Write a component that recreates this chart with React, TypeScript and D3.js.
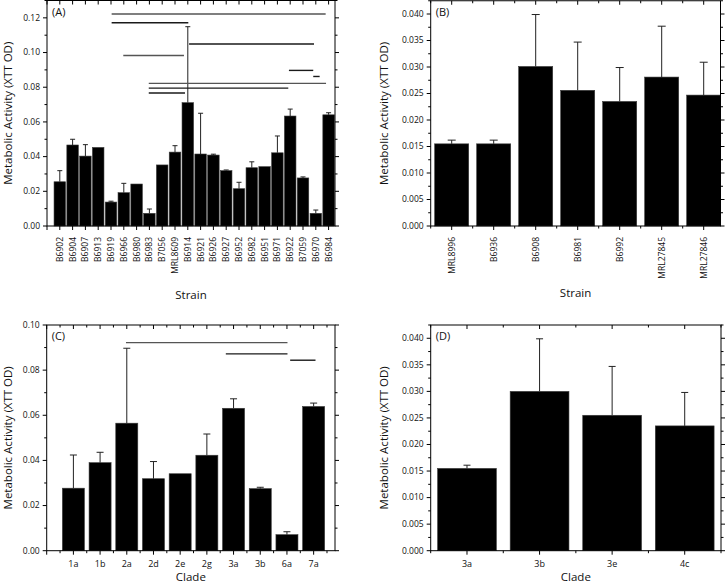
import * as d3 from "d3";

const strainsA = ["B6902", "B6904", "B6907", "B6913", "B6919", "B6966", "B6980", "B6983", "B7056", "MRL8609", "B6914",
  "B6921", "B6926", "B6927", "B6952", "B6982", "B6951", "B6971", "B6922", "B7059", "B6970", "B6984"];
const activityA = [0.0255, 0.0467, 0.0403, 0.0453, 0.0138, 0.0192, 0.0242, 0.0073, 0.0352, 0.0426, 0.0711,
  0.0415, 0.0409, 0.0319, 0.0215, 0.0336, 0.0342, 0.0422, 0.0634, 0.0277, 0.0073, 0.0641];
const sdA = [0.0064, 0.0033, 0.0066, 0, 0.0005, 0.0054, 0, 0.0025, 0, 0.0037, 0.0438,
  0.0235, 0.0005, 0.0004, 0.0037, 0.0034, 0, 0.0097, 0.004, 0.0006, 0.0019, 0.0012];
// [from, to, level] in category units
const sigA: [number, number, number][] = [
  [5.05, 21.77, 0.1222],
  [5.05, 11.04, 0.1172],
  [11.1, 20.86, 0.1049],
  [5.96, 10.7, 0.0983],
  [18.9, 20.8, 0.0897],
  [20.8, 21.3, 0.0862],
  [7.95, 21.8, 0.0822],
  [7.95, 18.85, 0.0795],
  [7.95, 10.78, 0.0767],
];

const strainsB = ["MRL8996", "B6936", "B6908", "B6981", "B6992", "MRL27845", "MRL27846"];
const activityB = [0.0155, 0.0155, 0.0301, 0.0256, 0.0235, 0.0281, 0.0247];
const sdB = [0.0007, 0.0007, 0.0098, 0.0091, 0.0064, 0.0096, 0.0062];

const cladesC = ["1a", "1b", "2a", "2d", "2e", "2g", "3a", "3b", "6a", "7a"];
const activityC = [0.0277, 0.039, 0.0565, 0.0319, 0.0341, 0.0423, 0.0631, 0.0275, 0.0071, 0.0639];
const sdC = [0.0147, 0.0046, 0.0332, 0.0076, 0, 0.0094, 0.0042, 0.0006, 0.0013, 0.0015];
const sigC: [number, number, number][] = [
  [2.97, 9.02, 0.0922],
  [6.71, 9.02, 0.0872],
  [9.12, 10.07, 0.0844],
];

const cladesD = ["3a", "3b", "3e", "4c"];
const activityD = [0.0155, 0.03, 0.0255, 0.0235];
const sdD = [0.0006, 0.0099, 0.0092, 0.0063];

const FONT = "'Open Sans', 'Noto Sans', sans-serif";
const Y_TITLE = "Metabolic Activity (XTT OD)";

type PanelProps = {
  tag: string;
  left: number;
  right: number;
  top: number;
  bottom: number;
  xDomain: [number, number];
  yMax: number;
  yStep: number;
  yDigits: number;
  cats: string[];
  values: number[];
  sd: number[];
  barW: number;
  cap: number;
  rotated: boolean;
  halfTicks: boolean;
  sig?: [number, number, number][];
  xTitle: string;
  xTitleY: number;
  yTitleX: number;
};

function Panel(p: PanelProps) {
  const x = d3.scaleLinear().domain(p.xDomain).range([p.left, p.right]);
  const y = d3.scaleLinear().domain([0, p.yMax]).range([p.bottom, p.top]);
  const fmt = d3.format(`.${p.yDigits}f`);

  const yMajor = d3.range(0, p.yMax + 1e-9, p.yStep);
  const yMinor = d3.range(p.yStep / 2, p.yMax + 1e-9, p.yStep);

  const xMajor = d3.range(Math.ceil(p.xDomain[0]), p.xDomain[1] + 1e-9, 1);
  const xMinor = p.halfTicks
    ? d3.range(Math.floor(p.xDomain[0]) + 0.5, p.xDomain[1] + 1e-9, 1).filter((v) => v >= p.xDomain[0] - 1e-9)
    : [];

  const bw = x(p.barW) - x(0);

  return (
    <g fontFamily={FONT}>
      {/* bars */}
      {p.values.map((v, i) => (
        <rect
          key={`b${i}`}
          x={x(i + 1) - bw / 2}
          y={y(v)}
          width={bw}
          height={p.bottom - y(v)}
          fill="#000"
          stroke="#3a3a3a"
          strokeWidth={0.6}
        />
      ))}
      {/* error bars */}
      {p.values.map((v, i) =>
        p.sd[i] > 0 ? (
          <g key={`e${i}`} stroke="#222" strokeWidth={1}>
            <line x1={x(i + 1)} x2={x(i + 1)} y1={y(v)} y2={y(v + p.sd[i])} />
            <line x1={x(i + 1) - p.cap / 2} x2={x(i + 1) + p.cap / 2} y1={y(v + p.sd[i])} y2={y(v + p.sd[i])} />
          </g>
        ) : null
      )}
      {/* significance lines */}
      {(p.sig || []).map((s, i) => (
        <line
          key={`s${i}`}
          x1={x(s[0])}
          x2={x(s[1])}
          y1={y(s[2])}
          y2={y(s[2])}
          stroke={i % 3 === 0 ? "#555" : "#1a1a1a"}
          strokeWidth={1.4}
        />
      ))}
      {/* frame */}
      <rect
        x={p.left}
        y={p.top}
        width={p.right - p.left}
        height={p.bottom - p.top}
        fill="none"
        stroke="#000"
        strokeWidth={1}
      />
      {/* y ticks */}
      {yMajor.map((v) => (
        <g key={`ym${v}`}>
          <line x1={p.left - 4} x2={p.left} y1={y(v)} y2={y(v)} stroke="#000" />
          <line x1={p.right} x2={p.right + 4} y1={y(v)} y2={y(v)} stroke="#000" />
          <text x={p.left - 7} y={y(v)} dy="0.33em" textAnchor="end" fontSize={8.5} fill="#111">
            {fmt(v)}
          </text>
        </g>
      ))}
      {yMinor.map((v) => (
        <g key={`yn${v}`}>
          <line x1={p.left - 2.5} x2={p.left} y1={y(v)} y2={y(v)} stroke="#000" />
          <line x1={p.right} x2={p.right + 2.5} y1={y(v)} y2={y(v)} stroke="#000" />
        </g>
      ))}
      {/* x ticks */}
      {xMajor.map((v) => (
        <g key={`xm${v}`}>
          <line x1={x(v)} x2={x(v)} y1={p.bottom} y2={p.bottom + 4} stroke="#000" />
          <line x1={x(v)} x2={x(v)} y1={p.top} y2={p.top + 4} stroke="#000" />
        </g>
      ))}
      {xMinor.map((v) => (
        <g key={`xn${v}`}>
          <line x1={x(v)} x2={x(v)} y1={p.bottom} y2={p.bottom + 2.5} stroke="#000" />
          <line x1={x(v)} x2={x(v)} y1={p.top} y2={p.top + 2.5} stroke="#000" />
        </g>
      ))}
      {/* category labels */}
      {p.cats.map((c, i) =>
        p.rotated ? (
          <text
            key={`c${i}`}
            transform={`translate(${x(i + 1)},${p.bottom + 11}) rotate(-90)`}
            dy="0.35em"
            textAnchor="end"
            fontSize={8.5}
            fill="#111"
          >
            {c}
          </text>
        ) : (
          <text key={`c${i}`} x={x(i + 1)} y={p.bottom + 16} textAnchor="middle" fontSize={9} fill="#111">
            {c}
          </text>
        )
      )}
      {/* panel tag */}
      <text x={p.left + 5} y={p.top + 15} fontSize={11} fill="#111">
        {p.tag}
      </text>
      {/* titles */}
      <text x={(p.left + p.right) / 2} y={p.xTitleY} textAnchor="middle" fontSize={11.5} fill="#111">
        {p.xTitle}
      </text>
      <text
        transform={`translate(${p.yTitleX},${(p.top + p.bottom) / 2}) rotate(-90)`}
        textAnchor="middle"
        fontSize={11.5}
        fill="#111"
      >
        {Y_TITLE}
      </text>
    </g>
  );
}

export default function App() {
  return (
    <svg
      width={725}
      height={586}
      style={{ position: "absolute", left: 0, top: 0, background: "#fff" }}
    >
      <Panel
        tag="(A)"
        left={47}
        right={335}
        top={0.5}
        bottom={226}
        xDomain={[0, 22.5]}
        yMax={0.13}
        yStep={0.02}
        yDigits={2}
        cats={strainsA}
        values={activityA}
        sd={sdA}
        barW={0.9}
        cap={5}
        rotated={true}
        halfTicks={false}
        sig={sigA}
        xTitle="Strain"
        xTitleY={299}
        yTitleX={12}
      />
      <Panel
        tag="(B)"
        left={430.7}
        right={720.5}
        top={0.75}
        bottom={226}
        xDomain={[0.5, 7.4]}
        yMax={0.0425}
        yStep={0.005}
        yDigits={3}
        cats={strainsB}
        values={activityB}
        sd={sdB}
        barW={0.81}
        cap={8}
        rotated={true}
        halfTicks={true}
        xTitle="Strain"
        xTitleY={297}
        yTitleX={388}
      />
      <Panel
        tag="(C)"
        left={46.7}
        right={335}
        top={325}
        bottom={550.7}
        xDomain={[0, 10.8]}
        yMax={0.1}
        yStep={0.02}
        yDigits={2}
        cats={cladesC}
        values={activityC}
        sd={sdC}
        barW={0.825}
        cap={7}
        rotated={false}
        halfTicks={true}
        sig={sigC}
        xTitle="Clade"
        xTitleY={581}
        yTitleX={12}
      />
      <Panel
        tag="(D)"
        left={430.7}
        right={721}
        top={325}
        bottom={550.7}
        xDomain={[0.5, 4.5]}
        yMax={0.0425}
        yStep={0.005}
        yDigits={3}
        cats={cladesD}
        values={activityD}
        sd={sdD}
        barW={0.81}
        cap={7}
        rotated={false}
        halfTicks={true}
        xTitle="Clade"
        xTitleY={581}
        yTitleX={388}
      />
    </svg>
  );
}
